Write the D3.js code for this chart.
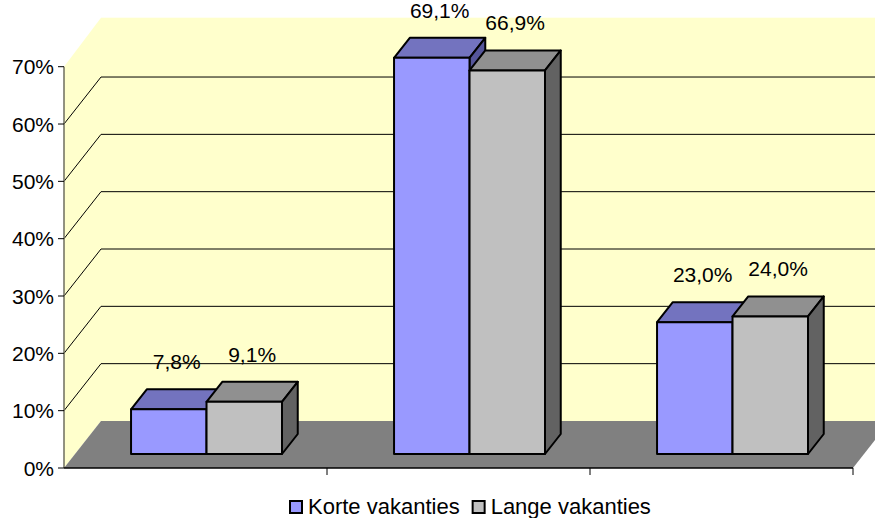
<!DOCTYPE html>
<html>
<head>
<meta charset="utf-8">
<script src="https://cdn.jsdelivr.net/npm/d3@7"></script>
<style>
  body { margin: 0; background: #fff; }
  svg text { font-family: "Liberation Sans", Arial, sans-serif; font-size: 21px; fill: #000; }
  svg .legend text { font-size: 22px; }
</style>
</head>
<body>
<div id="chart"></div>
<script>
// data
const categories = ["groep 1", "groep 2", "groep 3"];
const seriesNames = ["Korte vakanties", "Lange vakanties"];
const korte = [7.8, 69.1, 23.0];
const lange = [9.1, 66.9, 24.0];
const yTicks = [0, 10, 20, 30, 40, 50, 60, 70];

const seriesValues = [korte, lange];
const colors = [
  {front: "#9999FF", top: "#7373BF", side: "#55559A"},
  {front: "#C0C0C0", top: "#909090", side: "#626262"}
];

let width = 875, height = 518;
let left = 64, right = 853;
// depth offset of the 3d box
let DX = 37, DY = 47;
// bars sit in the middle of the depth
let d0 = 14 / 47, d1 = 34 / 47;

const svg = d3.select("#chart")
  .append("svg")
    .attr("width", width)
    .attr("height", height);

let y = d3.scaleLinear()
  .domain([0, 70])
  .range([468, 66.7]);

let x = d3.scaleBand()
  .domain(categories)
  .range([left, right])
  .paddingInner(0.426)
  .paddingOuter(0.213);

let x1 = d3.scaleBand()
  .domain(seriesNames)
  .range([0, x.bandwidth()]);

function P(px, v, d) {
  return [px + d * DX, y(v) - d * DY];
}
function poly(pts) {
  return pts.map(p => p.join(",")).join(" ");
}

// walls
svg.append("rect")
  .attr("x", left + DX)
  .attr("y", y(70) - DY - 2)
  .attr("width", width)
  .attr("height", y(0) - y(70) + 2)
  .attr("fill", "#FFFFCC");

svg.append("polygon")
  .attr("points", poly([[left, y(70)], [left + DX, y(70) - DY - 2], [left + DX, y(0) - DY], [left, y(0)]]))
  .attr("fill", "#FFFFCC");

// gridlines
svg.selectAll("gridline")
  .data(yTicks.filter(t => t > 0 && t < 70))
  .enter()
  .append("polyline")
    .attr("points", t => poly([[left, y(t)], [left + DX, y(t) - DY], [width + 20, y(t) - DY]]))
    .attr("fill", "none")
    .attr("stroke", "#000")
    .attr("stroke-width", 1);

// floor
svg.append("polygon")
  .attr("points", poly([[left, y(0)], [left + DX, y(0) - DY], [right + DX, y(0) - DY], [right, y(0)]]))
  .attr("fill", "#808080");

// Y axis
svg.append("line")
  .attr("x1", left).attr("x2", left)
  .attr("y1", y(70)).attr("y2", y(0))
  .attr("stroke", "#6E6E5E")
  .attr("stroke-width", 1.5);

svg.selectAll("ytick")
  .data(yTicks)
  .enter()
  .append("line")
    .attr("x1", left - 6).attr("x2", left)
    .attr("y1", d => y(d)).attr("y2", d => y(d))
    .attr("stroke", "#000")
    .attr("stroke-width", 1);

svg.selectAll("ylabel")
  .data(yTicks)
  .enter()
  .append("text")
    .attr("x", left - 10)
    .attr("y", d => y(d))
    .attr("dy", "0.36em")
    .attr("text-anchor", "end")
    .text(d => d + "%");

// X axis
svg.append("line")
  .attr("x1", left).attr("x2", right)
  .attr("y1", y(0)).attr("y2", y(0))
  .attr("stroke", "#000")
  .attr("stroke-width", 1.5);

let step = x.step();
svg.selectAll("xtick")
  .data(categories)
  .enter()
  .append("line")
    .attr("x1", d => x(d) - x.paddingOuter() * step + step)
    .attr("x2", d => x(d) - x.paddingOuter() * step + step)
    .attr("y1", y(0)).attr("y2", y(0) + 7)
    .attr("stroke", "#000")
    .attr("stroke-width", 1);

// bars
let bars = [];
categories.forEach((c, i) => {
  seriesNames.forEach((s, j) => {
    bars.push({cat: c, series: s, j: j, v: seriesValues[j][i]});
  });
});

let g = svg.selectAll("bar")
  .data(bars)
  .enter()
  .append("g");

g.append("polygon")
  .attr("points", d => {
    let x0 = x(d.cat) + x1(d.series), w = x1.bandwidth();
    return poly([P(x0, d.v, d0), P(x0 + w, d.v, d0), P(x0 + w, d.v, d1), P(x0, d.v, d1)]);
  })
  .attr("fill", d => colors[d.j].top);

g.append("polygon")
  .attr("points", d => {
    let x0 = x(d.cat) + x1(d.series), w = x1.bandwidth();
    return poly([P(x0 + w, d.v, d0), P(x0 + w, d.v, d1), P(x0 + w, 0, d1), P(x0 + w, 0, d0)]);
  })
  .attr("fill", d => colors[d.j].side);

g.append("polygon")
  .attr("points", d => {
    let x0 = x(d.cat) + x1(d.series), w = x1.bandwidth();
    return poly([P(x0, d.v, d0), P(x0 + w, d.v, d0), P(x0 + w, 0, d0), P(x0, 0, d0)]);
  })
  .attr("fill", d => colors[d.j].front);

g.selectAll("polygon")
  .attr("stroke", "#000")
  .attr("stroke-width", 2)
  .attr("stroke-linejoin", "round");

// value labels
let fmt = d3.format(".1f");
svg.selectAll("vlabel")
  .data(bars)
  .enter()
  .append("text")
    .attr("x", d => x(d.cat) + x1(d.series) + x1.bandwidth() / 2 + (d0 + d1) / 2 * DX)
    .attr("y", d => y(d.v) - d1 * DY - 20)
    .attr("text-anchor", "middle")
    .text(d => fmt(d.v).replace(".", ",") + "%");

// legend
let legend = svg.append("g").attr("class", "legend");
let lx = 289;
seriesNames.forEach((s, j) => {
  legend.append("rect")
    .attr("x", lx + 1).attr("y", 501)
    .attr("width", 12).attr("height", 12)
    .attr("fill", colors[j].front)
    .attr("stroke", "#000")
    .attr("stroke-width", 2);
  let t = legend.append("text")
    .attr("x", lx + 19)
    .attr("y", 514)
    .text(s);
  lx = lx + 19 + t.node().getComputedTextLength() + 12;
});
</script>
</body>
</html>
